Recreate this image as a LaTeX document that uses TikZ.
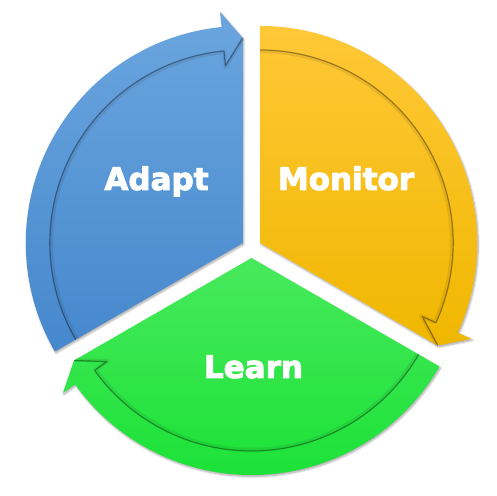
\documentclass[tikz,border=0pt]{standalone}
\usepackage{fontspec}
\setmainfont{DejaVu Sans}[BoldFeatures={FakeBold=3}]
\usetikzlibrary{shadows.blur}
\definecolor{bluetop}{RGB}{106,165,222}
\definecolor{bluebot}{RGB}{70,136,205}
\definecolor{yeltop}{RGB}{255,200,55}
\definecolor{yelbot}{RGB}{240,183,0}
\definecolor{grntop}{RGB}{72,233,92}
\definecolor{grnbot}{RGB}{28,226,56}
\tikzset{
  piecestyle/.style={blur shadow={shadow xshift=1pt,shadow yshift=-1.5pt,shadow blur steps=6,shadow opacity=35,shadow blur radius=2pt}},
  groove/.style={draw=black,draw opacity=0.35,line width=1.2pt,line join=round},
  groovesoft/.style={draw=black,draw opacity=0.08,line width=3.5pt,line join=round},
  label/.style={text=white,font=\bfseries\fontsize{31}{31}\selectfont,anchor=base,inner sep=0pt}
}
\newcommand\cyclepiece[4]{%
  \begin{scope}[shift={#1}]
    \pgfmathsetmacro\pe{#2-120}
    \pgfmathsetmacro\pb{#2-120+5.6}
    \path[piecestyle,top color=#3,bottom color=#4]
      (0,0) -- (#2:217) arc[start angle=#2,end angle=\pb,radius=217]
      -- (\pb:232) -- (\pe:205) -- cycle;
    \draw[groovesoft] (#2:191.5) arc[start angle=#2,end angle=\pb,radius=191.5]
      -- (\pb:176.5) -- (\pe:204);
    \draw[groove] (#2:193) arc[start angle=#2,end angle=\pb,radius=193]
      -- (\pb:178) -- (\pe:205);
  \end{scope}}
\begin{document}
\begin{tikzpicture}[x=1pt,y=1pt]
  \useasboundingbox (0,0) rectangle (496,496);
  \cyclepiece{(242.8,253)}{210}{bluetop}{bluebot}
  \cyclepiece{(260.2,253)}{90}{yeltop}{yelbot}
  \cyclepiece{(251.5,238)}{330}{grntop}{grnbot}
  \node[label] (adapt) at (156.5,306) {Adapt};
  \node[label] (monitor) at (346,306) {Monitor};
  \node[label] (learn) at (253.5,118) {Learn};
\end{tikzpicture}
\end{document}
